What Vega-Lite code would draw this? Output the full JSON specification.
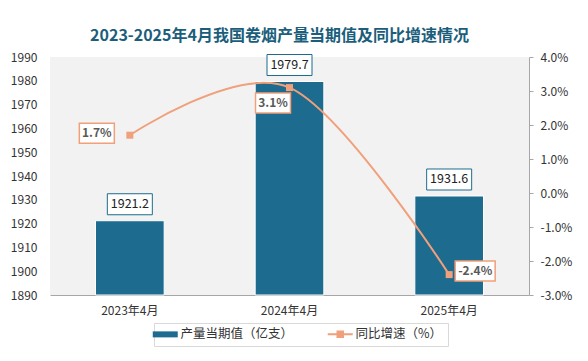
{
  "$schema": "https://vega.github.io/schema/vega-lite/v6.json",
  "width": 479,
  "height": 238,
  "padding": {"left": 10, "top": 28, "right": 5, "bottom": 5},
  "background": "white",
  "config": {
    "font": "Noto Sans CJK SC",
    "view": {"fill": "#f2f2f2", "stroke": null},
    "axis": {"labelFont": "Noto Sans CJK SC", "labelFontSize": 12, "labelColor": "#333333", "grid": false},
    "locale": {"number": {"decimal": ".", "thousands": ",", "grouping": [3], "currency": ["", ""], "minus": "-"}}
  },
  "title": {"text": "2023-2025年4月我国卷烟产量当期值及同比增速情况", "fontSize": 16, "fontWeight": "bold", "color": "#1b5e7b", "offset": 7, "dx": -10},
  "data": {"values": [
    {"月份": "2023年4月", "产量": 1921.2, "增速": 0.017},
    {"月份": "2024年4月", "产量": 1979.7, "增速": 0.031},
    {"月份": "2025年4月", "产量": 1931.6, "增速": -0.024}
  ]},
  "encoding": {
    "x": {"field": "月份", "type": "nominal", "sort": null,
      "scale": {"paddingInner": 0.57, "paddingOuter": 0.285},
      "axis": {"title": null, "labelAngle": 0, "ticks": false, "domainColor": "#a6a6a6", "labelPadding": 10, "labelFontSize": 12}}
  },
  "layer": [
    {
      "encoding": {
        "y": {"field": "产量", "type": "quantitative",
          "scale": {"domain": [1890, 1990], "nice": false, "zero": false},
          "axis": {"title": null, "format": "d", "values": [1890, 1900, 1910, 1920, 1930, 1940, 1950, 1960, 1970, 1980, 1990], "domain": false, "ticks": false, "labelPadding": 13}}
      },
      "layer": [
        {
          "mark": {"type": "bar", "stroke": "white", "strokeWidth": 1},
          "encoding": {
            "y2": {"datum": 1890},
            "color": {"datum": "产量当期值（亿支）",
              "scale": {"domain": ["产量当期值（亿支）", "同比增速（%）"], "range": ["#1d6b8e", "#f0a07a"]},
              "legend": {"orient": "none", "legendX": 104, "legendY": 266, "title": null, "direction": "horizontal", "strokeColor": "#d9d9d9", "padding": 5, "labelFontSize": 12.5, "labelColor": "#333333", "symbolSize": 625, "columnPadding": 29, "labelOffset": 9,
                "encoding": {"symbols": {
                  "shape": {"value": {"expr": "datum.value == '同比增速（%）' ? 'M-1,0L1,0M-0.22,-0.22H0.22V0.22H-0.22Z' : 'M-1,-0.24H1V0.24H-1Z'"}},
                  "strokeWidth": {"value": {"expr": "datum.value == '同比增速（%）' ? 2 : 0"}},
                  "opacity": {"value": 1}
                }}}
            }
          }
        },
        {
          "mark": {"type": "point", "shape": "M-1,-0.467H1V0.467H-1Z", "size": 2025, "filled": true, "fill": "white", "stroke": "#1d6b8e", "strokeWidth": 1, "opacity": 1, "yOffset": -16.5}
        },
        {
          "mark": {"type": "text", "yOffset": -16.5, "fontSize": 12.5, "color": "#222222"},
          "encoding": {"text": {"field": "产量", "type": "quantitative", "format": ".1f"}}
        }
      ]
    },
    {
      "encoding": {
        "y": {"field": "增速", "type": "quantitative",
          "scale": {"domain": [-0.03, 0.04], "nice": false, "zero": false},
          "axis": {"title": null, "orient": "right", "format": ".1%", "values": [-0.03, -0.02, -0.01, 0, 0.01, 0.02, 0.03, 0.04], "domainColor": "#a6a6a6", "tickColor": "#a6a6a6", "tickSize": 4, "labelPadding": 7}}
      },
      "layer": [
        {
          "mark": {"type": "line", "interpolate": "cardinal", "strokeWidth": 2,
            "point": {"filled": true, "shape": "square", "size": 49, "opacity": 1}},
          "encoding": {"color": {"datum": "同比增速（%）"}}
        },
        {
          "transform": [{"filter": "datum['月份'] == '2023年4月'"}],
          "mark": {"type": "point", "shape": "M-1,-0.571H1V0.571H-1Z", "size": 1225, "filled": true, "fill": "white", "stroke": "#f0a07a", "strokeWidth": 1.5, "opacity": 1, "xOffset": -33, "yOffset": -2}
        },
        {
          "transform": [{"filter": "datum['月份'] == '2023年4月'"}],
          "mark": {"type": "text", "xOffset": -33, "yOffset": -2, "fontWeight": "bold", "fontSize": 12, "color": "#595959"},
          "encoding": {"text": {"field": "增速", "type": "quantitative", "format": ".1%"}}
        },
        {
          "transform": [{"filter": "datum['月份'] == '2024年4月'"}],
          "mark": {"type": "point", "shape": "M-1,-0.571H1V0.571H-1Z", "size": 1225, "filled": true, "fill": "white", "stroke": "#f0a07a", "strokeWidth": 1.5, "opacity": 1, "xOffset": -16.5, "yOffset": 15.5}
        },
        {
          "transform": [{"filter": "datum['月份'] == '2024年4月'"}],
          "mark": {"type": "text", "xOffset": -16.5, "yOffset": 15.5, "fontWeight": "bold", "fontSize": 12, "color": "#595959"},
          "encoding": {"text": {"field": "增速", "type": "quantitative", "format": ".1%"}}
        },
        {
          "transform": [{"filter": "datum['月份'] == '2025年4月'"}],
          "mark": {"type": "point", "shape": "M-1,-0.5H1V0.5H-1Z", "size": 1600, "filled": true, "fill": "white", "stroke": "#f0a07a", "strokeWidth": 1.5, "opacity": 1, "xOffset": 26, "yOffset": -3.5}
        },
        {
          "transform": [{"filter": "datum['月份'] == '2025年4月'"}],
          "mark": {"type": "text", "xOffset": 26, "yOffset": -3.5, "fontWeight": "bold", "fontSize": 12, "color": "#595959"},
          "encoding": {"text": {"field": "增速", "type": "quantitative", "format": ".1%"}}
        }
      ]
    }
  ],
  "resolve": {"scale": {"y": "independent"}}
}
